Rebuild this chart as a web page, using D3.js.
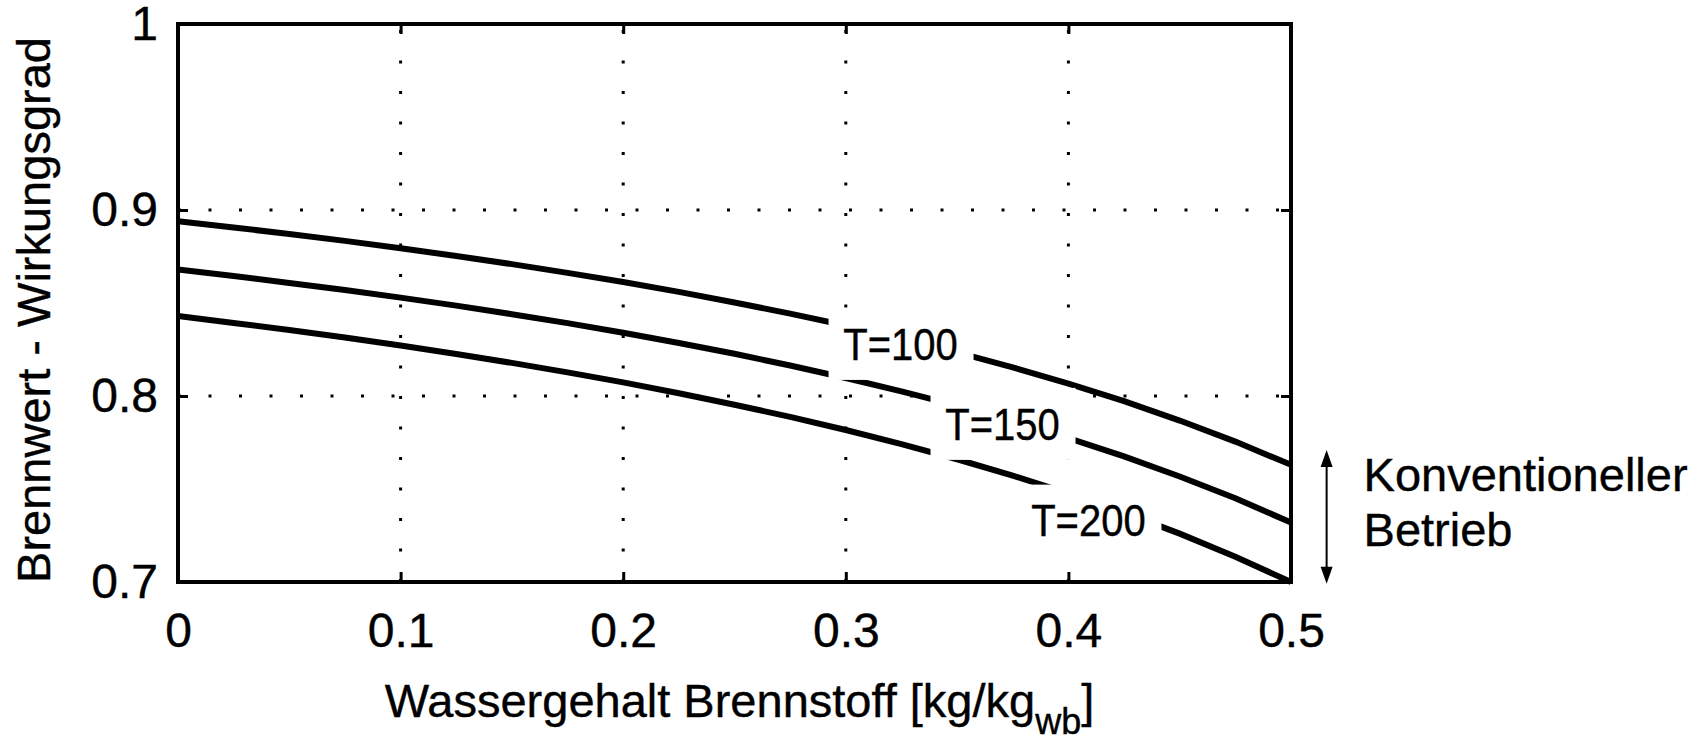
<!DOCTYPE html>
<html>
<head>
<meta charset="utf-8">
<script src="https://cdn.jsdelivr.net/npm/d3@7"></script>
<style>
  body { margin: 0; background: #fff; }
  svg text { font-family: "Liberation Sans", Arial, sans-serif; fill: #000; stroke: #000; stroke-width: 0.4px; }
</style>
</head>
<body>
<svg id="chart" width="1703" height="735"></svg>
<script>
// Wassergehalt Brennstoff [kg/kg wb], Stuetzstellen alle 0.025
var wasser = [0, 0.025, 0.05, 0.075, 0.1, 0.125, 0.15, 0.175, 0.2, 0.225, 0.25,
              0.275, 0.3, 0.325, 0.35, 0.375, 0.4, 0.425, 0.45, 0.475, 0.5];

// Brennwert-Wirkungsgrad fuer die drei Abgastemperaturen
var eta100 = [0.894, 0.8906, 0.8871, 0.8834, 0.8794, 0.8753, 0.8709, 0.8662, 0.8613, 0.8560, 0.8503,
              0.8443, 0.8379, 0.8309, 0.8235, 0.8154, 0.8067, 0.7972, 0.7868, 0.7755, 0.763];
var eta150 = [0.868, 0.8645, 0.8608, 0.8570, 0.8529, 0.8486, 0.8440, 0.8392, 0.8340, 0.8285, 0.8227,
              0.8164, 0.8097, 0.8025, 0.7948, 0.7864, 0.7773, 0.7675, 0.7567, 0.7450, 0.732];
var eta200 = [0.843, 0.8393, 0.8355, 0.8314, 0.8271, 0.8226, 0.8178, 0.8127, 0.8073, 0.8015, 0.7953,
              0.7888, 0.7817, 0.7741, 0.7660, 0.7572, 0.7477, 0.7373, 0.7260, 0.7136, 0.700];

// Beschriftung der Kurven
var kurvenNamen = ["T=100", "T=150", "T=200"];
var labelX = [0.3246, 0.3704, 0.409];
var labelY = [0.828, 0.785, 0.733];

var xTicks = [0, 0.1, 0.2, 0.3, 0.4, 0.5];
var yTicks = [0.7, 0.8, 0.9, 1];

// Pfeil "Konventioneller Betrieb"
var betriebX = 0.516;
var betriebBereich = [0.771, 0.699];
var betriebText = ["Konventioneller", "Betrieb"];
var betriebTextY = [0.749, 0.7194];

// (window.top ist schreibgeschuetzt, daher eigene Namen)
var pLeft = 178, pRight = 1291, pTop = 24, pBottom = 582;

var svg = d3.select("#chart");

var x = d3.scaleLinear().domain([0, 0.5]).range([pLeft, pRight]);
var y = d3.scaleLinear().domain([0.7, 1]).range([pBottom, pTop]);

// gepunktetes Gitter
var grid = svg.append("g");
grid.selectAll("line.vx")
    .data(xTicks.slice(1, -1))
    .join("line")
    .attr("class", "vx")
    .attr("x1", d => x(d)).attr("x2", d => x(d))
    .attr("y1", pBottom).attr("y2", pTop);
grid.selectAll("line.hy")
    .data(yTicks.slice(1, -1))
    .join("line")
    .attr("class", "hy")
    .attr("x1", pLeft).attr("x2", pRight)
    .attr("y1", d => y(d)).attr("y2", d => y(d));
grid.selectAll("line")
    .attr("stroke", "#000")
    .attr("stroke-width", 3)
    .attr("stroke-dasharray", "3,27.5");

// Kurven
var linie = d3.line()
    .x((d, i) => x(wasser[i]))
    .y(d => y(d));

svg.append("g").selectAll("path")
    .data([eta100, eta150, eta200])
    .join("path")
    .attr("d", linie)
    .attr("fill", "none")
    .attr("stroke", "#000")
    .attr("stroke-width", 6);

// Kurvenbeschriftung mit weissem Hintergrund
var labels = svg.append("g").selectAll("g")
    .data(kurvenNamen)
    .join("g")
    .attr("transform", (d, i) => "translate(" + x(labelX[i]) + "," + y(labelY[i]) + ")");
labels.append("rect")
    .attr("x", -72).attr("y", -36)
    .attr("width", 145).attr("height", 72)
    .attr("fill", "#fff");
labels.append("text")
    .attr("text-anchor", "middle")
    .attr("transform", "scale(1,1.1)")
    .attr("dy", "0.36em")
    .attr("font-size", 40)
    .text(d => d);

// Achsenrahmen
svg.append("rect")
    .attr("x", pLeft).attr("y", pTop)
    .attr("width", pRight - pLeft).attr("height", pBottom - pTop)
    .attr("fill", "none")
    .attr("stroke", "#000")
    .attr("stroke-width", 4);

var fmt = d3.format("~g");

svg.append("g")
    .attr("transform", "translate(0," + pBottom + ")")
    .call(d3.axisBottom(x).tickValues(xTicks).tickFormat(fmt)
        .tickSizeInner(-10).tickSizeOuter(0).tickPadding(31));
svg.append("g")
    .attr("transform", "translate(0," + pTop + ")")
    .call(d3.axisTop(x).tickValues(xTicks).tickFormat("")
        .tickSizeInner(-10).tickSizeOuter(0));
svg.append("g")
    .attr("transform", "translate(" + pLeft + ",0)")
    .call(d3.axisLeft(y).tickValues(yTicks).tickFormat(fmt)
        .tickSizeInner(-10).tickSizeOuter(0).tickPadding(20));
svg.append("g")
    .attr("transform", "translate(" + pRight + ",0)")
    .call(d3.axisRight(y).tickValues(yTicks).tickFormat("")
        .tickSizeInner(-10).tickSizeOuter(0));

svg.selectAll(".domain").remove();
svg.selectAll(".tick line").attr("stroke", "#000").attr("stroke-width", 3);
svg.selectAll(".tick text")
    .attr("font-size", 48)
    .attr("font-family", "Liberation Sans, Arial, sans-serif")
    .attr("fill", "#000");

// Achsentitel
var xTitel = svg.append("text")
    .attr("x", (pLeft + pRight) / 2 + 5)
    .attr("y", 717)
    .attr("text-anchor", "middle")
    .attr("font-size", 47);
xTitel.append("tspan").text("Wassergehalt Brennstoff [kg/kg");
xTitel.append("tspan").attr("font-size", 36).attr("dy", 17).text("wb");
xTitel.append("tspan").attr("dy", -17).text("]");

svg.append("text")
    .attr("transform", "translate(50," + ((pTop + pBottom) / 2 + 7) + ") rotate(-90)")
    .attr("text-anchor", "middle")
    .attr("font-size", 47)
    .text("Brennwert - Wirkungsgrad");

// Doppelpfeil
var ax = x(betriebX), ay1 = y(betriebBereich[0]), ay2 = y(betriebBereich[1]);
svg.append("line")
    .attr("x1", ax).attr("x2", ax)
    .attr("y1", ay1 + 10).attr("y2", ay2 - 10)
    .attr("stroke", "#000").attr("stroke-width", 2);
svg.append("path")
    .attr("d", "M" + ax + "," + ay1 + "L" + (ax - 6) + "," + (ay1 + 17) + "L" + (ax + 6) + "," + (ay1 + 17) + "Z")
    .attr("fill", "#000");
svg.append("path")
    .attr("d", "M" + ax + "," + ay2 + "L" + (ax - 6) + "," + (ay2 - 17) + "L" + (ax + 6) + "," + (ay2 - 17) + "Z")
    .attr("fill", "#000");

svg.append("g").selectAll("text")
    .data(betriebText)
    .join("text")
    .attr("x", x(0.5326))
    .attr("y", (d, i) => y(betriebTextY[i]))
    .attr("font-size", 47)
    .text(d => d);
</script>
</body>
</html>
